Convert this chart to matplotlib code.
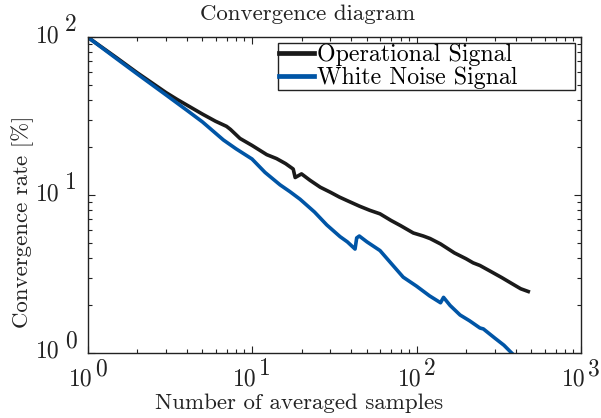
import matplotlib
matplotlib.use("Agg")
import matplotlib.pyplot as plt
from matplotlib.transforms import offset_copy
from matplotlib.ticker import LogLocator, NullFormatter

# ---- data ----
op_x = [1, 1.5, 2, 3, 3.5, 5, 6, 7, 7.4, 8.45, 10, 12.3, 14.1, 16, 17.8, 18.3, 20, 22.5,
        26, 30, 34, 38, 45, 52, 60, 70, 80, 95.6, 110, 121, 140, 170, 200, 221, 243,
        280, 330, 380, 430, 478]
op_y = [100, 74, 59.5, 44.5, 40.3, 32.5, 29.3, 27.2, 26.0, 22.8, 20.6, 18.0, 17.0, 15.8, 14.6,
        12.9, 13.6, 12.4, 11.2, 10.4, 9.7, 9.2, 8.5, 8.0, 7.6, 6.9, 6.4, 5.75, 5.5, 5.3,
        4.9, 4.3, 3.95, 3.72, 3.58, 3.3, 3.0, 2.75, 2.55, 2.45]

wn_x = [1, 1.5, 2, 3, 4, 5, 6.7, 8, 10, 12, 14.8, 17, 19.6, 24, 28.5, 34.3, 38, 42.3,
        43.3, 44.9, 50, 60, 70, 83, 100, 120, 140, 146, 160, 184, 210, 243, 255, 300,
        340, 379, 395]
wn_y = [100, 73, 58.5, 43, 34.5, 29, 22.3, 19.6, 16.9, 13.9, 11.6, 10.5, 9.4, 7.8, 6.46,
        5.45, 5.05, 4.55, 5.35, 5.5, 5.05, 4.45, 3.7, 3.02, 2.65, 2.3, 2.08, 2.25, 2.0,
        1.74, 1.6, 1.44, 1.42, 1.24, 1.12, 1.0, 0.96]

x_exps = [0, 1, 2, 3]
y_exps = [0, 1, 2]
title = "Convergence diagram"
xlabel = "Number of averaged samples"
ylabel = "Convergence rate [%]"
names = ["Operational Signal", "White Noise Signal"]

FONT = "cmr10"
FS = 16.5
TFS = 17
LFS = 17.2
plt.rcParams["font.family"] = FONT
plt.rcParams["axes.formatter.use_mathtext"] = True

fig = plt.figure(figsize=(6.01, 4.18), dpi=100)
ax = fig.add_axes([87.5 / 601, 1 - 353 / 418, (581 - 87.5) / 601, (353 - 37) / 418])

ax.plot(op_x, op_y, color="#1a1a1a", lw=2.6, label=names[0], solid_joinstyle="round")
ax.plot(wn_x, wn_y, color="#0055a6", lw=2.6, label=names[1], solid_joinstyle="round")

ax.set_xscale("log")
ax.set_yscale("log")
ax.set_xlim(1, 1000)
ax.set_ylim(1, 100)

ax.xaxis.set_major_locator(LogLocator(base=10, numticks=10))
ax.yaxis.set_major_locator(LogLocator(base=10, numticks=10))
ax.xaxis.set_minor_locator(LogLocator(base=10, subs=range(2, 10), numticks=20))
ax.yaxis.set_minor_locator(LogLocator(base=10, subs=range(2, 10), numticks=20))
ax.xaxis.set_minor_formatter(NullFormatter())
ax.yaxis.set_minor_formatter(NullFormatter())
ax.set_xticklabels([])
ax.set_yticklabels([])
ax.tick_params(which="both", direction="in", top=True, right=True, width=0.8,
               color="#222222")
ax.tick_params(which="major", length=5)
ax.tick_params(which="minor", length=3)
for s in ax.spines.values():
    s.set_linewidth(1.0)
    s.set_color("#222222")

# tick labels "10" with a raised exponent
for e in x_exps:
    t1 = offset_copy(ax.get_xaxis_transform(), fig=fig, x=-7, y=-32, units="dots")
    t2 = offset_copy(ax.get_xaxis_transform(), fig=fig, x=13, y=-22, units="dots")
    ax.text(10 ** e, 0, "10", transform=t1, ha="center", va="baseline",
            fontsize=TFS, color="#222222", clip_on=False)
    ax.text(10 ** e, 0, str(e), transform=t2, ha="center", va="baseline",
            fontsize=TFS, color="#222222", clip_on=False)
for e in y_exps:
    t1 = offset_copy(ax.get_yaxis_transform(), fig=fig, x=-28, y=-5, units="dots")
    t2 = offset_copy(ax.get_yaxis_transform(), fig=fig, x=-11, y=6, units="dots")
    ax.text(0, 10 ** e, "10", transform=t1, ha="right", va="baseline",
            fontsize=TFS, color="#222222", clip_on=False)
    ax.text(0, 10 ** e, str(e), transform=t2, ha="right", va="baseline",
            fontsize=TFS, color="#222222", clip_on=False)

fig.text(308 / 601, 1 - 14 / 418, title, ha="center", va="center", fontsize=FS,
         color="#222222")
fig.text(299 / 601, 1 - 403 / 418, xlabel, ha="center", va="center", fontsize=FS,
         color="#222222")
fig.text(23 / 601, 1 - 222 / 418, ylabel, ha="center", va="center", fontsize=FS,
         rotation=90, color="#222222")

leg = ax.legend(loc="upper left", bbox_to_anchor=(0.386, 0.827, 0.602, 0.155),
                mode="expand", fontsize=LFS, frameon=True, fancybox=False,
                borderpad=0.05, handlelength=1.45, handletextpad=0.12, labelspacing=0.0,
                borderaxespad=0.0, edgecolor="#222222")
leg.get_frame().set_linewidth(1.0)
leg.get_frame().set_alpha(1)
for line in leg.get_lines():
    line.set_linewidth(3.4)

fig.savefig("out.png", dpi=100)
